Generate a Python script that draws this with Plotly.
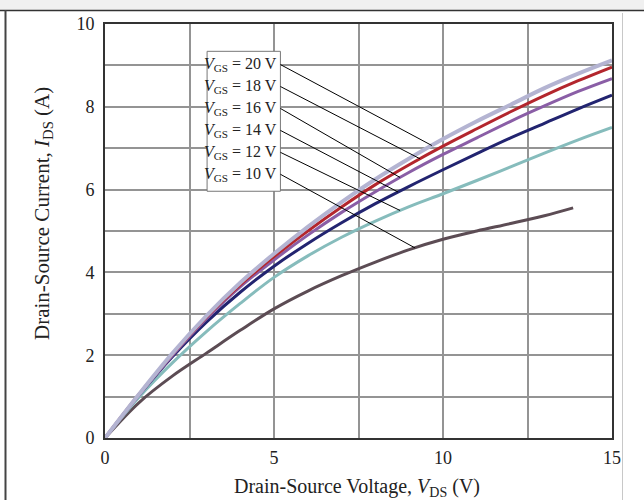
import numpy as np
import plotly.graph_objects as go

# ---------------- data ----------------
vds = [0, 1, 2, 3, 4, 5, 6, 7, 8, 9, 10, 11, 12, 13, 14, 15]
id_vgs20 = [0, 1.05, 2.05, 2.95, 3.75, 4.45, 5.10, 5.70, 6.25, 6.75, 7.22, 7.65, 8.05, 8.45, 8.80, 9.12]
id_vgs18 = [0, 1.05, 2.03, 2.92, 3.70, 4.38, 5.00, 5.58, 6.12, 6.60, 7.05, 7.47, 7.88, 8.27, 8.63, 8.96]
id_vgs16 = [0, 1.04, 2.00, 2.88, 3.65, 4.30, 4.90, 5.45, 5.95, 6.42, 6.85, 7.25, 7.65, 8.02, 8.37, 8.68]
id_vgs14 = [0, 1.03, 1.97, 2.80, 3.52, 4.15, 4.70, 5.20, 5.66, 6.08, 6.48, 6.87, 7.25, 7.60, 7.95, 8.28]
id_vgs12 = [0, 0.98, 1.82, 2.57, 3.25, 3.88, 4.40, 4.85, 5.24, 5.59, 5.90, 6.22, 6.55, 6.88, 7.20, 7.50]
vds_vgs10 = [0, 1, 2, 3, 4, 5, 6, 7, 8, 9, 10, 11, 12, 13, 13.85]
id_vgs10 = [0, 0.85, 1.50, 2.05, 2.60, 3.12, 3.55, 3.92, 4.25, 4.55, 4.80, 5.00, 5.18, 5.37, 5.56]

vgs_labels = ["20", "18", "16", "14", "12", "10"]
x_tick_vals = [0, 5, 10, 15]
y_tick_vals = [0, 2, 4, 6, 8, 10]
x_title = "Drain-Source Voltage, <i>V</i><sub>DS</sub> (V)"
y_title = "Drain-Source Current, <i>I</i><sub>DS</sub> (A)"

series = [
    (vgs_labels[5], vds_vgs10, id_vgs10),
    (vgs_labels[4], vds, id_vgs12),
    (vgs_labels[3], vds, id_vgs14),
    (vgs_labels[2], vds, id_vgs16),
    (vgs_labels[1], vds, id_vgs18),
    (vgs_labels[0], vds, id_vgs20),
]

# ---------------- styles ----------------
colors = {"20": "#b4b4d2", "18": "#b3262d", "16": "#8a5ea6",
          "14": "#222470", "12": "#86bcbc", "10": "#5c4c54"}
widths = {"20": 4, "18": 3, "16": 3, "14": 3, "12": 3, "10": 3}
FONT = "Liberation Serif"

fig = go.Figure()
for lab, xs, ys in series:
    fig.add_trace(go.Scatter(x=xs, y=ys, mode="lines", line_shape="spline",
                             line=dict(color=colors[lab], width=widths[lab]),
                             showlegend=False, hoverinfo="skip"))

# ---------------- page geometry ----------------
L, R, T, B = 105, 32, 24, 62
W, H = 644, 500
pw, ph = W - L - R, H - T - B
def px(xp):
    return (xp - L) / pw
def py(yp):
    return (H - B - yp) / ph

# ---------------- legend box with leader lines ----------------
row_y = [9.02, 8.49, 7.96, 7.43, 6.90, 6.37]
box_right = 5.19
leader_x = {"20": 9.67, "18": 9.32, "16": 8.73, "14": 8.67, "12": 8.73, "10": 9.17}
curve_lookup = {lab: (xs, ys) for lab, xs, ys in series}

shapes = [dict(type="rect", xref="x", yref="y", x0=3.02, x1=box_right, y0=5.96, y1=9.34,
               line=dict(color="#777777", width=1), fillcolor="white", layer="above")]
annotations = []
for lab, ry in zip(vgs_labels, row_y):
    xs, ys = curve_lookup[lab]
    ex = leader_x[lab]
    ey = float(np.interp(ex, xs, ys))
    shapes.append(dict(type="line", xref="x", yref="y", x0=box_right, y0=ry, x1=ex, y1=ey,
                       line=dict(color="black", width=1), layer="above"))
    annotations.append(dict(xref="x", yref="y", x=box_right - 0.03, y=ry, xanchor="right",
                            yanchor="middle", showarrow=False,
                            text=f"<i>V</i><sub>GS</sub> = {lab} V",
                            font=dict(family=FONT, size=16, color="#222")))

# axis titles
annotations.append(dict(xref="paper", yref="paper", x=px(357), y=py(473), xanchor="center",
                        yanchor="top", showarrow=False, text=x_title,
                        font=dict(family=FONT, size=20, color="#222")))
annotations.append(dict(xref="paper", yref="paper", x=px(43), y=py(214), xanchor="center",
                        yanchor="middle", showarrow=False, text=y_title, textangle=-90,
                        font=dict(family=FONT, size=21, color="#222")))

# ---------------- page frame decoration ----------------
shapes += [
    dict(type="rect", xref="paper", yref="paper", x0=px(0), x1=px(W), y0=py(10), y1=py(0),
         fillcolor="#f0f0f0", line=dict(width=0), layer="above"),
    dict(type="line", xref="paper", yref="paper", x0=px(0), x1=px(W), y0=py(10.5), y1=py(10.5),
         line=dict(color="#333333", width=1.5), layer="above"),
    dict(type="line", xref="paper", yref="paper", x0=px(5.5), x1=px(5.5), y0=py(10), y1=py(W),
         line=dict(color="#444444", width=2), layer="above"),
    dict(type="line", xref="paper", yref="paper", x0=px(622.5), x1=px(622.5), y0=py(13), y1=py(W),
         line=dict(color="#c8c8c8", width=1), layer="above"),
]

grid_c = "#949494"
fig.update_layout(
    width=W, height=H,
    margin=dict(l=L, r=R, t=T, b=B, pad=0, autoexpand=False),
    paper_bgcolor="white", plot_bgcolor="white",
    shapes=shapes, annotations=annotations,
    font=dict(family=FONT, color="#222"),
    xaxis=dict(range=[0, 15], tickvals=x_tick_vals, ticktext=[str(v) for v in x_tick_vals],
               showgrid=True, gridcolor=grid_c, gridwidth=1.5,
               minor=dict(dtick=2.5, tick0=0, showgrid=True, gridcolor=grid_c, gridwidth=1.5),
               showline=True, linecolor="#333", linewidth=2, mirror=True, ticks="",
               zeroline=False, ticklabelstandoff=2, automargin=False,
               tickfont=dict(family=FONT, size=18, color="#222")),
    yaxis=dict(range=[0, 10], tickvals=y_tick_vals, ticktext=[str(v) for v in y_tick_vals],
               showgrid=True, gridcolor=grid_c, gridwidth=1.5,
               minor=dict(dtick=1, tick0=0, showgrid=True, gridcolor=grid_c, gridwidth=1.5),
               showline=True, linecolor="#333", linewidth=2, mirror=True, ticks="",
               zeroline=False, ticklabelstandoff=5, automargin=False,
               tickfont=dict(family=FONT, size=18, color="#222")),
)

fig.write_html("out.html")
